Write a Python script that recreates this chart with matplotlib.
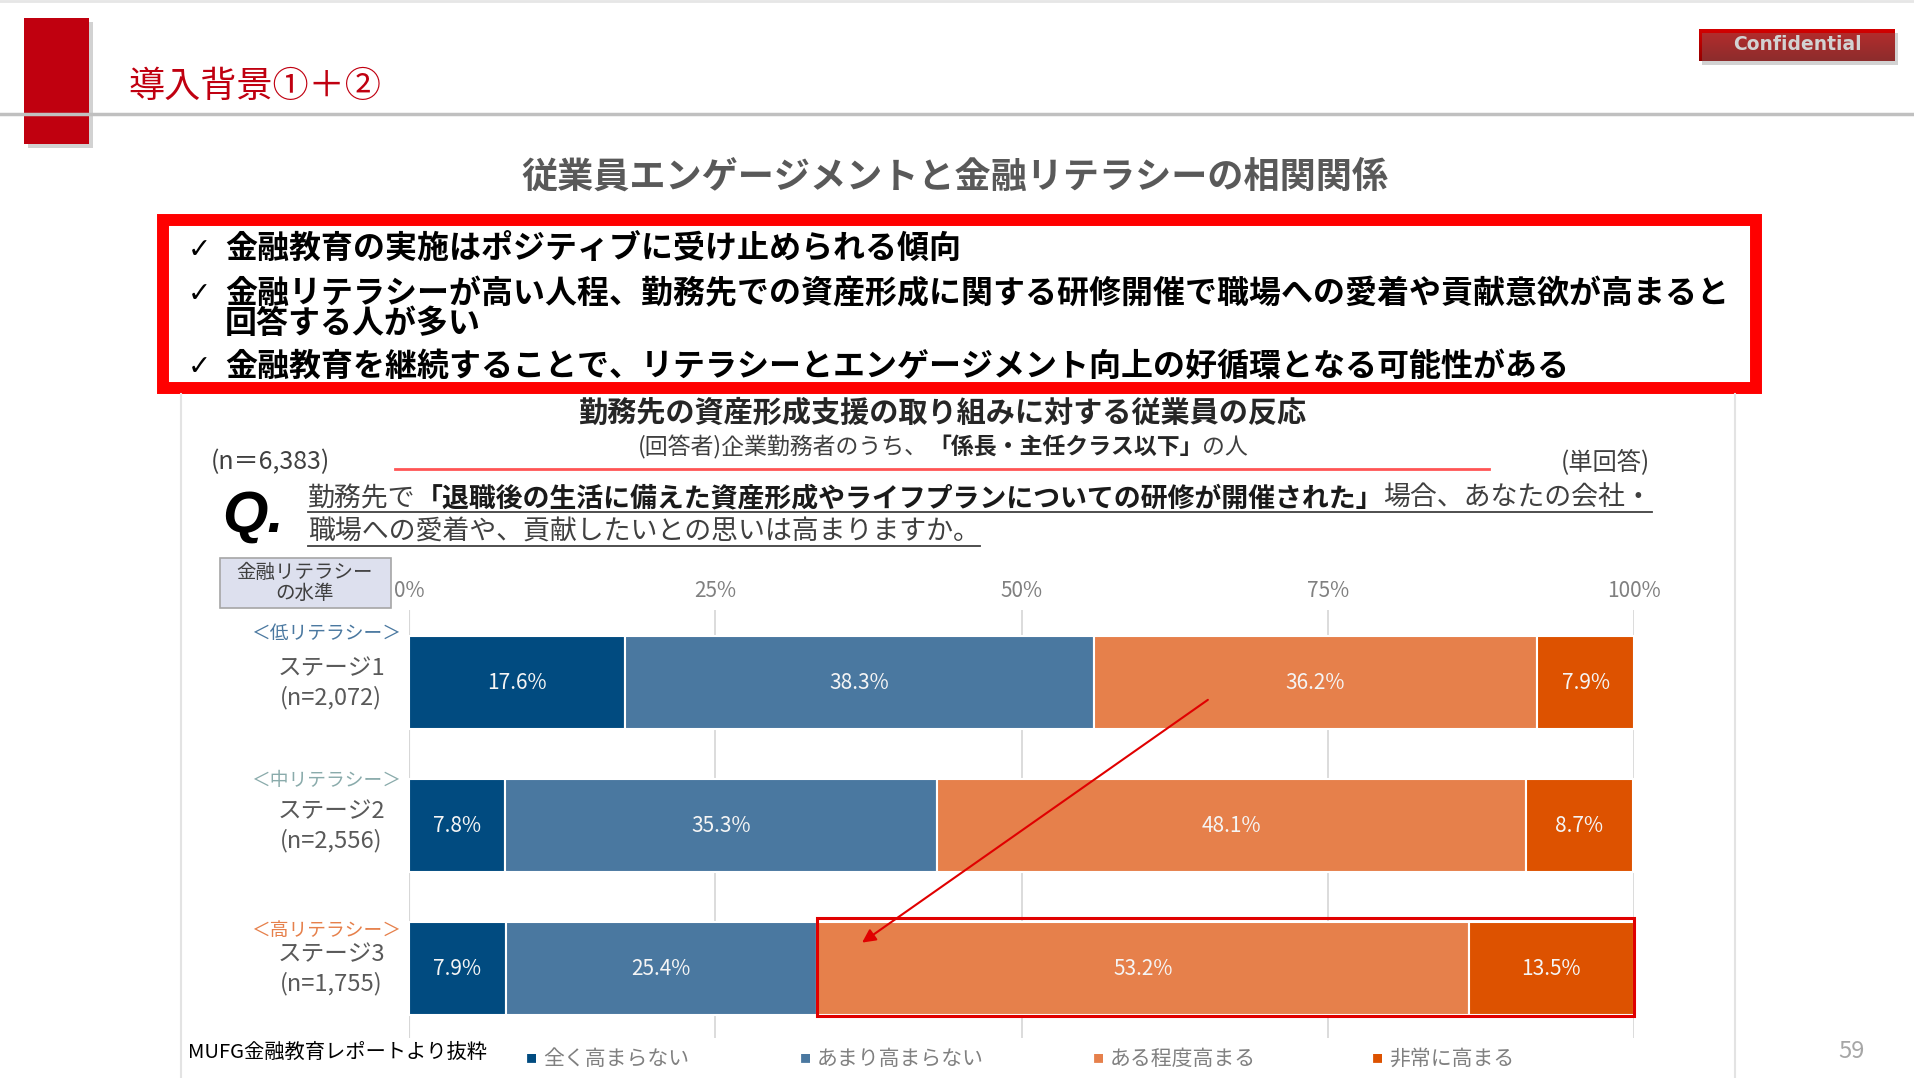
import numpy as np
import matplotlib
matplotlib.use("Agg")
import matplotlib.pyplot as plt
from matplotlib.patches import Rectangle
from matplotlib.lines import Line2D
from matplotlib import transforms

plt.rcParams['font.family'] = ['Noto Sans CJK JP', 'DejaVu Sans']

# --- data -------------------------------------------------------------
stages = ["ステージ1", "ステージ2", "ステージ3"]
sample_sizes = ["(n=2,072)", "(n=2,556)", "(n=1,755)"]
literacy = ["＜低リテラシー＞", "＜中リテラシー＞", "＜高リテラシー＞"]
literacy_colors = ["#4a78a0", "#8aabab", "#e6804b"]

responses = ["全く高まらない", "あまり高まらない", "ある程度高まる", "非常に高まる"]
resp_colors = ["#014b80", "#4a78a0", "#e6804b", "#dd5200"]

not_at_all = [17.6, 7.8, 7.9]
not_much = [38.3, 35.3, 25.4]
somewhat = [36.2, 48.1, 53.2]
very_much = [7.9, 8.7, 13.5]

x_ticks = [0, 25, 50, 75, 100]

bullets = [
    "金融教育の実施はポジティブに受け止められる傾向",
    "金融リテラシーが高い人程、勤務先での資産形成に関する研修開催で職場への愛着や貢献意欲が高まると\n回答する人が多い",
    "金融教育を継続することで、リテラシーとエンゲージメント向上の好循環となる可能性がある",
]

# --- figure helpers ---------------------------------------------------
W, H = 1914, 1078
fig = plt.figure(figsize=(W / 100, H / 100), dpi=100)
fig.patch.set_facecolor("white")


def fx(px):
    return px / W


def fy(py):
    return 1 - py / H


def frect(x0, y0, x1, y1, **kw):
    r = Rectangle((fx(x0), fy(y1)), fx(x1) - fx(x0), fy(y0) - fy(y1),
                  transform=fig.transFigure, **kw)
    fig.add_artist(r)
    return r


def fline(x0, y0, x1, y1, **kw):
    fig.add_artist(Line2D([fx(x0), fx(x1)], [fy(y0), fy(y1)],
                          transform=fig.transFigure, **kw))


def rich_text(x, y, pieces, size, ha="left", underline=None):
    # pieces: (text, bold, colour), laid out left to right on one baseline
    r = fig.canvas.get_renderer()
    arts, widths = [], []
    for s, bold, col in pieces:
        t = fig.text(0, fy(y), s, fontsize=size, color=col, va="baseline", ha="left",
                     fontweight="bold" if bold else "normal")
        widths.append(t.get_window_extent(r).width)
        arts.append(t)
    total = sum(widths)
    start = x - total / 2 if ha == "center" else x
    cur = start
    for t, w in zip(arts, widths):
        t.set_x(fx(cur))
        cur += w
    if underline is not None:
        fline(start, y + underline, start + total, y + underline, color="#404040", lw=1.3)


# --- slide header -----------------------------------------------------
fline(0, 1, W, 1, color="#e6e6e6", lw=2)
fline(0, 114, W, 114, color="#c0c0c0", lw=2.5)
frect(28, 22, 93, 148, facecolor="#808080", edgecolor="none", alpha=0.35)
frect(24, 18, 89, 144, facecolor="#c0000f", edgecolor="none")
fig.text(fx(128), fy(87), "導入背景①＋②", fontsize=26, color="#c00010", va="center")

# Confidential badge
frect(1702, 33, 1898, 65, facecolor="#808080", edgecolor="none", alpha=0.35)
bax = fig.add_axes([fx(1699), fy(61), fx(1895) - fx(1699), fy(29) - fy(61)])
grad = np.linspace(0, 1, 50).reshape(-1, 1)
bax.imshow(grad, aspect="auto", cmap=matplotlib.colors.LinearSegmentedColormap.from_list(
    "conf", ["#d40000", "#940000"]), extent=[0, 1, 0, 1], origin="upper")
bax.set_axis_off()
bax.text(0.5, 0.5, "Confidential", color="white", fontsize=13.5, fontweight="bold",
         family=["DejaVu Sans"], ha="center", va="center", transform=bax.transAxes)

fig.text(fx(955), fy(177), "従業員エンゲージメントと金融リテラシーの相関関係",
         fontsize=26, fontweight="bold", color="#595959", ha="center", va="center")

# --- key findings box ---------------------------------------------------
frect(163, 220, 1756, 388, facecolor="white", edgecolor="#ff0000", lw=8.6)
bullet_y = [250, 294, 367]
line_pitch = 30
for text, yy in zip(bullets, bullet_y):
    fig.text(fx(188), fy(yy), "✓", fontsize=20, fontweight="bold", color="black",
             family=["DejaVu Sans"], va="center")
    for j, part in enumerate(text.split("\n")):
        fig.text(fx(225), fy(yy + j * line_pitch), part, fontsize=23, fontweight="bold",
                 color="black", va="center")

# --- chart frame / headings ---------------------------------------------
fline(181, 394, 181, H, color="#e3e3e3", lw=1.5)
fline(1735, 394, 1735, H, color="#e3e3e3", lw=1.5)

fig.text(fx(942), fy(413), "勤務先の資産形成支援の取り組みに対する従業員の反応",
         fontsize=21, fontweight="bold", color="#262626", ha="center", va="center")
rich_text(943, 454, [("(回答者)企業勤務者のうち、", False, "#404040"),
                     ("「係長・主任クラス以下」", True, "#262626"),
                     ("の人", False, "#404040")], 16.5, ha="center")
fline(395, 469, 1489, 469, color="#ff5555", lw=2)
fig.text(fx(211), fy(462), "(n＝6,383)", fontsize=18, color="#404040", va="center")
fig.text(fx(1561), fy(462), "(単回答)", fontsize=17.5, color="#404040", va="center")

fig.text(fx(222), fy(517), "Q.", fontsize=42, fontweight="bold", style="italic",
         family=["Liberation Sans"], color="black", va="center")
rich_text(308, 506, [("勤務先で", False, "#404040"),
                     ("「退職後の生活に備えた資産形成やライフプランについての研修が開催された」", True, "#1a1a1a"),
                     ("場合、あなたの会社・", False, "#404040")], 19.4, underline=6)
rich_text(308, 540, [("職場への愛着や、貢献したいとの思いは高まりますか。", False, "#404040")], 19.4,
          underline=6)

frect(220, 558, 391, 608, facecolor="#dde0ee", edgecolor="#a6a6a6", lw=1.2)
fig.text(fx(305), fy(583), "金融リテラシー\nの水準", fontsize=14, color="#404040",
         ha="center", va="center", linespacing=1.0)

# --- stacked bar chart -------------------------------------------------
ax = fig.add_axes([fx(409), fy(1038), fx(1634) - fx(409), fy(610) - fy(1038)])
ypos = np.arange(len(stages))
series = [not_at_all, not_much, somewhat, very_much]
left = np.zeros(len(stages))
for vals, col in zip(series, resp_colors):
    bars = ax.barh(ypos, vals, left=left, height=0.655, color=col,
                   edgecolor="white", linewidth=1.5, zorder=3)
    ax.bar_label(bars, labels=[f"{v:.1f}%" for v in vals], label_type="center",
                 color="#f5f5f5", fontsize=15, zorder=4)
    left += np.array(vals)

ax.set_xlim(0, 100)
ax.set_ylim(2.486, -0.507)
ax.xaxis.tick_top()
ax.set_xticks(x_ticks)
ax.set_xticklabels([f"{t}%" for t in x_ticks], color="#808080", fontsize=15)
ax.tick_params(axis="x", length=0, pad=6)
ax.set_yticks([])
ax.grid(axis="x", color="#d9d9d9", lw=1.3, zorder=0)
ax.axvline(0, color="#c8c8c8", lw=1.5, zorder=1)
for s in ax.spines.values():
    s.set_visible(False)
ax.patch.set_alpha(0)

# row labels to the left of each bar
lbl = transforms.blended_transform_factory(fig.transFigure, ax.transData)
lit_offset = [49, 45, 38]
for i in range(len(stages)):
    t_lit = transforms.offset_copy(lbl, fig=fig, y=lit_offset[i], units="dots")
    ax.text(fx(326), ypos[i], literacy[i], transform=t_lit, fontsize=13.5,
            color=literacy_colors[i], ha="center", va="center")
    t_st = transforms.offset_copy(lbl, fig=fig, y=14, units="dots")
    ax.text(fx(331), ypos[i], stages[i], transform=t_st, fontsize=17,
            color="#595959", ha="center", va="center")
    t_n = transforms.offset_copy(lbl, fig=fig, y=-15, units="dots")
    ax.text(fx(331), ypos[i], sample_sizes[i], transform=t_n, fontsize=17,
            color="#595959", ha="center", va="center")

# highlight of the "高まる" share for high literacy
hi = len(stages) - 1
hl_left = not_at_all[hi] + not_much[hi]
ax.add_patch(Rectangle((hl_left, hi - 0.35), somewhat[hi] + very_much[hi], 0.68,
                       fill=False, edgecolor="#e00000", lw=2.2, zorder=6, clip_on=False))
ax.annotate("", xy=(36.8, 1.83), xytext=(65.4, 0.11),
            arrowprops=dict(arrowstyle="-|>", color="#e00000", lw=1.5,
                            mutation_scale=20), zorder=7)

# --- footer --------------------------------------------------------------
fig.text(fx(188), fy(1052), "MUFG金融教育レポートより抜粋", fontsize=14.6, color="black",
         va="center")
legend_x = [531, 805, 1098, 1377]
for name, col, lx in zip(responses, resp_colors, legend_x):
    fig.text(fx(lx), fy(1059), "■", fontsize=8, color=col, va="center", ha="center")
    fig.text(fx(lx + 12), fy(1059), name, fontsize=15, color="#808080", va="center")
fig.text(fx(1851), fy(1052), "59", fontsize=17, color="#a6a6a6", ha="center", va="center")

fig.savefig("out.png", dpi=100, facecolor="white")
